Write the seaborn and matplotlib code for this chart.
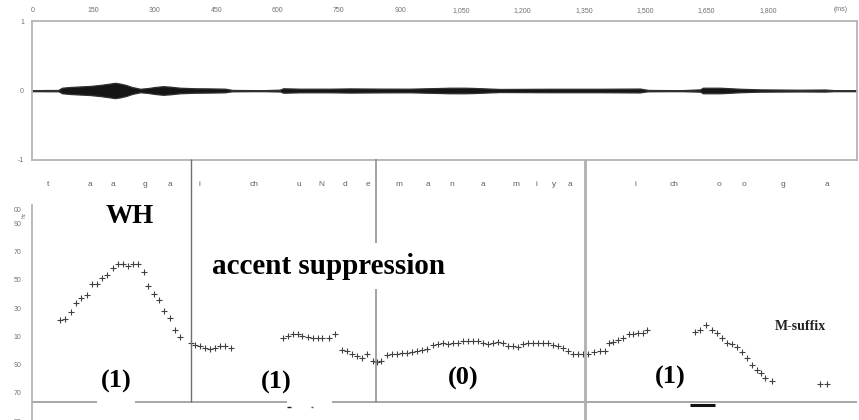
import numpy as np
import pandas as pd
import matplotlib
matplotlib.use("Agg")
import matplotlib.pyplot as plt
from matplotlib.patches import Rectangle
import seaborn as sns

# ---- data -------------------------------------------------------------
# waveform amplitude envelope (time in ms, relative amplitude)
env_ms = [0, 31, 63, 73, 92, 117, 141, 166, 185, 202, 214, 229, 244, 264, 283,
          300, 320, 337, 361, 398, 435, 472, 489, 562, 606, 614, 655, 729, 778,
          851, 924, 973, 998, 1022, 1059, 1083, 1144, 1267, 1389, 1487, 1507,
          1585, 1634, 1641, 1683, 1732, 1781, 1879, 1940, 1964, 2018]
env_amp = [0.0, 0.007, 0.007, 0.040, 0.050, 0.058, 0.065, 0.080, 0.095, 0.110,
           0.100, 0.080, 0.050, 0.025, 0.035, 0.050, 0.062, 0.055, 0.040, 0.032,
           0.030, 0.026, 0.008, 0.004, 0.012, 0.032, 0.026, 0.026, 0.030, 0.027,
           0.026, 0.033, 0.036, 0.040, 0.040, 0.036, 0.022, 0.025, 0.025, 0.028,
           0.008, 0.004, 0.016, 0.040, 0.040, 0.025, 0.016, 0.011, 0.014, 0.004,
           0.0]

# F0 track (ms, Hz)
pitch_ms = [68, 80, 94, 107, 119, 133, 147, 159, 171, 184, 197, 209, 221, 233,
            246, 259, 273, 284, 298, 310, 323, 337, 348, 361,
            388, 398, 410, 422, 435, 447, 459, 472, 486,
            613, 625, 637, 649, 661, 674, 686, 698, 710, 725, 740,
            757, 769, 782, 794, 806, 818, 833, 843, 853, 867, 880, 892,
            904, 916, 929, 941, 953, 965, 980, 992, 1004, 1017, 1029, 1041,
            1053, 1066, 1078, 1090, 1102, 1115, 1127, 1139, 1151, 1163, 1176,
            1188, 1200, 1212, 1225, 1237, 1249, 1261, 1274, 1286, 1298, 1310,
            1323, 1335, 1347,
            1360, 1374, 1389, 1402, 1410, 1422, 1434, 1446, 1459, 1471, 1483,
            1495, 1505,
            1622, 1634, 1649, 1663, 1675, 1687, 1699, 1712, 1724, 1736, 1748,
            1761, 1773, 1783, 1793, 1811, 1927, 1945]
pitch_hz = [121.7, 122.2, 127.6, 133.5, 137.5, 139.4, 147.0, 147.0, 151.6, 153.5,
            158.3, 161.1, 161.1, 160.1, 161.1, 161.1, 155.9, 146.0, 139.9, 135.8,
            128.0, 123.3, 114.6, 109.9,
            105.4, 104.0, 103.3, 101.6, 101.1, 102.1, 103.3, 103.3, 102.1,
            108.7, 110.4, 111.8, 111.6, 110.6, 109.9, 109.2, 109.2, 109.2, 109.2,
            111.6,
            100.4, 100.0, 97.4, 96.4, 95.0, 97.4, 92.9, 92.2, 92.9, 96.9, 97.4,
            97.6,
            98.1, 98.1, 98.8, 99.7, 100.4, 100.9, 104.0, 104.7, 105.2, 104.7,
            105.2, 105.6, 106.8, 107.0, 107.0, 106.8, 105.6, 104.7, 105.6, 105.9,
            105.2, 103.3, 103.3, 102.8, 104.7, 105.6, 105.6, 105.6, 105.2, 105.2,
            104.0, 103.3, 101.6, 100.0, 97.6, 97.4, 97.4,
            97.4, 99.2, 99.9, 99.9, 105.2, 106.3, 107.5, 108.7, 111.8, 111.8,
            112.3, 112.3, 114.6,
            113.4, 114.6, 118.2, 114.6, 112.7, 108.7, 105.2, 104.7, 102.8, 99.2,
            95.0, 89.8, 86.3, 83.9, 80.4, 78.5, 76.2, 76.2]

time_ticks = [0, 150, 300, 450, 600, 750, 900, 1050, 1200, 1350, 1500, 1650, 1800]
time_labels = ["0", "150", "300", "450", "600", "750", "900", "1,050", "1,200",
               "1,350", "1,500", "1,650", "1,800"]
amp_ticks = [1, 0, -1]
hz_ticks = [200, 190, 170, 150, 130, 110, 90, 70, 50]
hz_labels = ["00", "90", "70", "50", "30", "10", "90", "70", "50"]

phonemes = ["t", "a", "a", "g", "a", "i", "ch", "u", "N", "d", "e", "m", "a",
            "n", "a", "m", "i", "y", "a", "i", "ch", "o", "o", "g", "a"]
phoneme_ms = [38, 140, 198, 276, 337, 410, 543, 653, 706, 765, 821, 896, 969,
              1026, 1102, 1184, 1234, 1277, 1316, 1475, 1571, 1681, 1742, 1837,
              1944]

boundary_ms = [388, 841, 1352]
tone_labels = ["(1)", "(1)", "(0)", "(1)"]
tone_ms = [206, 598, 1055, 1561]
baseline_hz = 63.5

# ---- figure -----------------------------------------------------------
sns.set_theme(style="white")
plt.rcParams["font.family"] = ["Liberation Sans", "DejaVu Sans"]

W, H = 859, 420
fig = plt.figure(figsize=(W / 100, H / 100), dpi=100)
fig.patch.set_facecolor("white")

x0, x1 = 32.3, 857.0
XMAX = 2018
grey = "#b4b4b4"
tick_col = "#707070"

def frac_x(px):
    return px / W

# waveform panel
ax_w = fig.add_axes([frac_x(x0), (H - 160) / H, (x1 - x0) / W, 139 / H])
ax_w.set_xlim(0, XMAX)
ax_w.set_ylim(-1, 1)
ax_w.axhline(0, color="#a8a8a8", lw=1.8, zorder=1)
ax_w.fill_between(env_ms, [-a for a in env_amp], env_amp, color="#151515",
                  lw=0.9, edgecolor="#303030", zorder=2)
ax_w.xaxis.tick_top()
ax_w.set_xticks(time_ticks)
ax_w.set_xticklabels(time_labels)
ax_w.set_yticks(amp_ticks)
ax_w.set_yticklabels(["1", "0", "-1"])
ax_w.tick_params(axis="both", length=0, labelsize=5, labelcolor=tick_col)
ax_w.tick_params(axis="x", pad=5)
ax_w.tick_params(axis="y", pad=6)
ax_w.text(1977, 1.16, "(ms)", fontsize=5, color=tick_col, ha="center",
          va="center", clip_on=False)
for s in ax_w.spines.values():
    s.set_color(grey)
    s.set_linewidth(1.3)
ax_w.grid(False)

# pitch panel (extends a little past the lower figure edge)
top_px, bot_px = 205, 430
hz_top = 150 + (280 - top_px) * 0.708
hz_bot = 150 - (bot_px - 280) * 0.708
ax_p = fig.add_axes([frac_x(x0), (H - bot_px) / H, (x1 - x0) / W,
                     (bot_px - top_px) / H])
ax_p.set_facecolor("none")
ax_p.set_xlim(0, XMAX)
ax_p.set_ylim(hz_bot, hz_top)
df = pd.DataFrame({"ms": pitch_ms, "hz": pitch_hz})
sns.scatterplot(data=df, x="ms", y="hz", marker="+", s=15, color="#404040",
                linewidth=0.8, ax=ax_p, zorder=4, legend=False)
ax_p.axhline(baseline_hz, color="#a0a0a0", lw=1.3, zorder=2)
ax_p.set_xticks([])
ax_p.set_yticks(hz_ticks)
ax_p.set_yticklabels(hz_labels)
ax_p.tick_params(axis="y", length=0, labelsize=5, labelcolor=tick_col, pad=8)
ax_p.set_xlabel("")
ax_p.set_ylabel("")
for k in ("top", "right", "bottom"):
    ax_p.spines[k].set_visible(False)
ax_p.spines["left"].set_color(grey)
ax_p.spines["left"].set_linewidth(1.3)
ax_p.grid(False)

# overlay in (ms, pixel-row) coordinates for boundaries and annotations
ov = fig.add_axes([frac_x(x0), 0, (x1 - x0) / W, 1])
ov.set_xlim(0, XMAX)
ov.set_ylim(H, 0)
ov.axis("off")
ov.patch.set_alpha(0)

ov.vlines(boundary_ms[0], 159, 402, color="#707070", lw=1.0, zorder=3)
ov.vlines(boundary_ms[1], 159, 403, color="#8a8a8a", lw=1.1, zorder=3)
ov.vlines(boundary_ms[2], 159, 420, color="#b0b0b0", lw=2.0, zorder=3)

for ph, t in zip(phonemes, phoneme_ms):
    ov.text(t, 184, ph, fontsize=6, color="#606060", ha="center", va="center")

ov.text((24 - x0) / 0.4086, 215, "Hz", fontsize=3.5, color=tick_col,
        rotation=90, ha="center", va="center", clip_on=False)

serif = ["Liberation Serif", "DejaVu Serif"]
ov.text(239, 223, "WH", family=serif, fontweight="bold", fontsize=19.5,
        color="black", ha="center", va="baseline", zorder=6)
ov.text(726, 273.5, "accent suppression", family=serif, fontweight="bold",
        fontsize=21, color="black", ha="center", va="baseline", zorder=6,
        bbox=dict(boxstyle="square,pad=0.33", fc="white", ec="none"))
ov.text(1880, 330, "M-suffix", family=serif, fontweight="bold", fontsize=10,
        color="#222222", ha="center", va="baseline", zorder=6)

tone_y = [381, 382, 378, 377.5]
for lab, t, yy in zip(tone_labels, tone_ms, tone_y):
    ov.text(t, yy, lab, family=serif, fontweight="bold", fontsize=19,
            color="black", ha="center", va="center", zorder=6)

# white patches breaking the baseline, plus small stray marks below it
ov.add_patch(Rectangle((158, 398), 93, 8, fc="white", ec="none", zorder=5))
ov.add_patch(Rectangle((623, 398), 110, 8, fc="white", ec="none", zorder=5))
ov.hlines(406.5, 623, 633, color="#222222", lw=1.0, zorder=6)
ov.hlines(407, 683, 688, color="#555555", lw=1.0, zorder=6)
ov.hlines(404.5, 1610, 1671, color="#111111", lw=2.2, zorder=6)

fig.savefig("out.png", dpi=100, facecolor="white")
